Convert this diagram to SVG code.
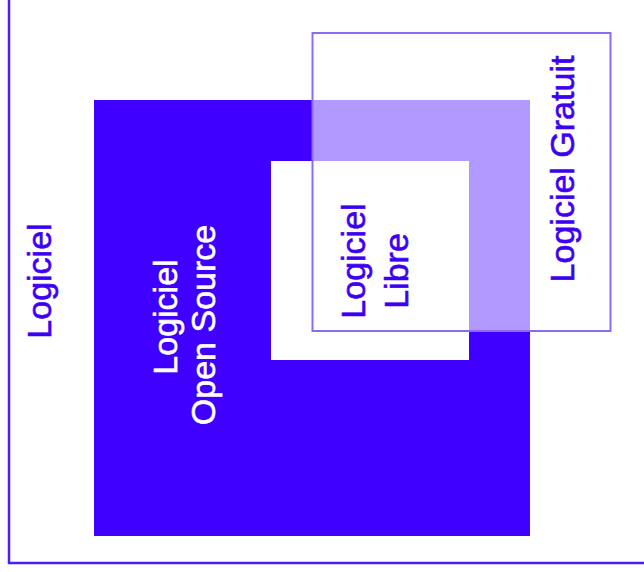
<svg xmlns="http://www.w3.org/2000/svg" width="644" height="572" viewBox="0 0 644 572">
  <style>
    text { font-family: "Liberation Sans", Arial, sans-serif; font-size: 34px; text-anchor: middle; stroke-width: 0.6px; }
    .blue { fill: #3d00f5; stroke: #3d00f5; }
    .white { fill: #ffffff; stroke: #ffffff; }
  </style>
  <rect width="644" height="572" fill="#ffffff"/>

  <!-- Logiciel: the whole frame -->
  <g id="logiciel">
    <rect x="9" y="-10" width="650" height="573" fill="none" stroke="#4a1ff0" stroke-width="2.5"/>
    <text class="blue" transform="translate(51,281) rotate(-90)">Logiciel</text>
  </g>

  <!-- Logiciel Open Source -->
  <g id="open-source">
    <rect x="94" y="100" width="436" height="436" fill="#4000ff"/>
    <text class="white" transform="translate(177,317) rotate(-90)">Logiciel</text>
    <text class="white" transform="translate(215,325) rotate(-90)">Open Source</text>
  </g>

  <!-- Logiciel Libre -->
  <g id="libre">
    <rect x="271" y="161" width="198" height="199" fill="#ffffff"/>
    <text class="blue" transform="translate(365,261) rotate(-90)">Logiciel</text>
    <text class="blue" transform="translate(408,271) rotate(-90)">Libre</text>
  </g>

  <!-- Logiciel Gratuit: translucent veil (leaving the Libre square clear) and outline -->
  <g id="gratuit">
    <path d="M312.5 33H610.5V331H312.5Z M271 161V360H469V161Z" fill="#ffffff" fill-opacity="0.6" fill-rule="evenodd"/>
    <rect x="312.5" y="33" width="298" height="298" fill="none" stroke="#8c6bf3" stroke-width="2"/>
    <text class="blue" transform="translate(574,169) rotate(-90)">Logiciel Gratuit</text>
  </g>

  <g id="connectors"/>
</svg>
